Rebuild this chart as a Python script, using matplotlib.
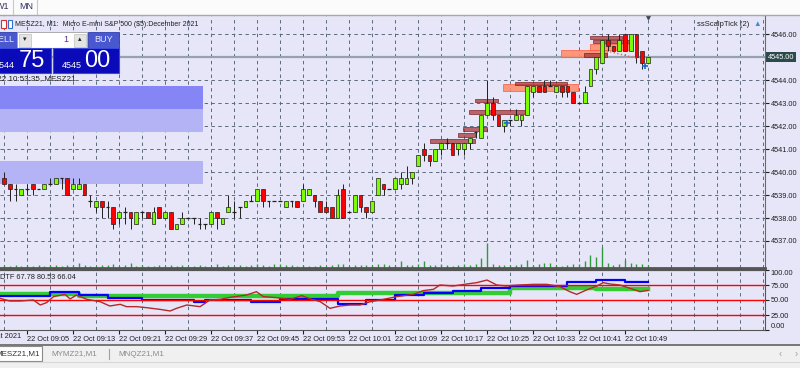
import matplotlib
matplotlib.use('Agg')
import matplotlib.pyplot as plt
from matplotlib.patches import Rectangle

plt.rcParams['font.family'] = ['Liberation Sans', 'DejaVu Sans']

W, H = 800, 368
BG = '#e6e6f8'
GRID = '#5a6a7c'
DASH = (0, (3.5, 3.5))

# M1 bars of MESZ21, minutes after 09:00 on 22 Oct 2021
bar_minutes = list(range(1, 114))
opens = [4539.75, 4539.5, 4539.25, 4539.0, 4539.25, 4539.5, 4539.25, 4539.25, 4539.5, 4539.5,
         4539.75, 4539.75, 4539.25, 4539.25, 4539.5, 4538.75, 4538.5, 4538.75, 4538.5, 4538.5,
         4538.0, 4538.25, 4538.25, 4537.75, 4538.25, 4538.25, 4537.75, 4538.5, 4538.0, 4538.25,
         4537.5, 4537.75, 4538.0, 4538.0, 4537.75, 4537.75, 4537.75, 4538.25, 4537.75, 4538.25,
         4538.25, 4538.5, 4538.5, 4538.75, 4538.75, 4539.25, 4538.75, 4538.75, 4538.75, 4538.5,
         4538.75, 4538.75, 4538.75, 4539.0, 4539.0, 4538.75, 4538.5, 4538.5, 4538.0, 4539.25,
         4538.25, 4538.25, 4539.0, 4538.5, 4538.25, 4539.0, 4539.5, 4539.25, 4539.25, 4539.5,
         4539.5, 4539.75, 4540.25, 4541.0, 4540.75, 4540.5, 4541.0, 4541.25, 4541.25, 4541.0,
         4541.0, 4541.25, 4541.75, 4541.5, 4542.5, 4543.0, 4542.5, 4542.0, 4542.25, 4542.25,
         4542.25, 4542.5, 4543.5, 4543.75, 4543.75, 4543.75, 4543.5, 4543.75, 4543.75, 4543.5,
         4543.0, 4543.0, 4543.75, 4544.5, 4544.75, 4545.75, 4545.5, 4545.25, 4546.0, 4545.25,
         4546.0, 4545.25, 4544.75]
highs = [4540.0, 4539.5, 4539.5, 4539.25, 4539.5, 4539.5, 4539.25, 4539.5, 4539.75, 4539.75,
         4539.75, 4539.75, 4539.75, 4539.75, 4539.5, 4539.0, 4538.75, 4538.75, 4538.75, 4538.5,
         4538.25, 4538.5, 4538.25, 4538.25, 4538.25, 4538.25, 4538.5, 4538.5, 4538.25, 4538.25,
         4537.75, 4538.25, 4538.0, 4538.0, 4538.0, 4537.75, 4538.25, 4538.25, 4538.0, 4539.0,
         4538.75, 4538.5, 4538.75, 4539.0, 4539.25, 4539.25, 4538.75, 4538.75, 4538.75, 4538.75,
         4538.75, 4538.75, 4539.5, 4539.25, 4539.0, 4538.75, 4538.75, 4538.5, 4539.25, 4539.5,
         4538.25, 4539.0, 4539.0, 4538.5, 4538.75, 4539.75, 4539.5, 4539.25, 4539.75, 4540.0,
         4540.25, 4540.0, 4540.75, 4541.25, 4540.75, 4541.0, 4541.25, 4541.5, 4541.25, 4541.25,
         4541.25, 4541.5, 4541.75, 4542.5, 4544.0, 4543.25, 4542.5, 4542.25, 4542.25, 4542.75,
         4542.5, 4543.75, 4543.75, 4543.75, 4544.0, 4544.0, 4543.75, 4543.75, 4543.75, 4543.5,
         4543.0, 4543.75, 4544.5, 4545.0, 4545.75, 4546.0, 4545.5, 4546.0, 4546.0, 4546.0,
         4546.0, 4545.25, 4545.0]
lows = [4539.5, 4538.75, 4538.75, 4539.0, 4539.0, 4539.0, 4539.25, 4539.25, 4539.5, 4539.5,
        4539.25, 4539.0, 4539.25, 4539.25, 4539.0, 4538.5, 4538.25, 4538.0, 4538.0, 4537.5,
        4537.75, 4537.75, 4537.5, 4537.75, 4538.0, 4538.0, 4537.75, 4538.0, 4538.0, 4537.5,
        4537.5, 4537.75, 4538.0, 4537.75, 4537.5, 4537.5, 4537.75, 4537.5, 4537.75, 4538.25,
        4538.0, 4538.0, 4538.5, 4538.75, 4538.75, 4538.5, 4538.5, 4538.75, 4538.75, 4538.5,
        4538.5, 4538.5, 4538.75, 4539.0, 4538.5, 4538.25, 4538.25, 4538.0, 4538.0, 4538.0,
        4538.25, 4538.25, 4538.25, 4538.0, 4538.25, 4539.0, 4539.0, 4539.25, 4539.25, 4539.25,
        4539.5, 4539.5, 4540.25, 4540.5, 4540.25, 4540.5, 4540.75, 4541.0, 4540.75, 4540.75,
        4540.75, 4541.0, 4541.5, 4541.5, 4542.5, 4542.25, 4542.0, 4541.75, 4542.0, 4542.25,
        4542.0, 4542.5, 4543.25, 4543.5, 4543.5, 4543.75, 4543.5, 4543.25, 4543.25, 4543.0,
        4543.0, 4543.0, 4543.75, 4544.25, 4544.75, 4545.25, 4545.25, 4545.25, 4545.25, 4545.25,
        4544.75, 4544.5, 4544.75]
closes = [4539.5, 4539.25, 4539.25, 4539.25, 4539.25, 4539.25, 4539.25, 4539.5, 4539.5, 4539.75,
          4539.75, 4539.0, 4539.5, 4539.5, 4539.0, 4538.75, 4538.75, 4538.5, 4538.5, 4537.75,
          4538.25, 4538.25, 4538.0, 4538.25, 4538.25, 4538.0, 4538.25, 4538.0, 4538.25, 4537.5,
          4537.75, 4538.0, 4538.0, 4538.0, 4537.75, 4537.75, 4538.25, 4538.0, 4538.0, 4538.5,
          4538.25, 4538.5, 4538.75, 4538.75, 4539.25, 4538.75, 4538.75, 4538.75, 4538.75, 4538.75,
          4538.75, 4538.5, 4539.25, 4539.25, 4538.75, 4538.25, 4538.25, 4538.0, 4539.0, 4538.0,
          4538.25, 4539.0, 4538.5, 4538.25, 4538.75, 4539.75, 4539.25, 4539.25, 4539.75, 4539.75,
          4539.75, 4540.0, 4540.75, 4540.75, 4540.5, 4541.0, 4541.25, 4541.25, 4540.75, 4541.25,
          4541.25, 4541.5, 4541.75, 4542.5, 4543.0, 4542.5, 4542.0, 4542.25, 4542.25, 4542.5,
          4542.5, 4543.75, 4543.75, 4543.5, 4543.5, 4543.75, 4543.75, 4543.5, 4543.5, 4543.0,
          4543.0, 4543.5, 4544.5, 4545.0, 4545.75, 4545.5, 4545.25, 4545.75, 4545.25, 4546.0,
          4545.0, 4544.75, 4545.0]
volumes = [3, 2, 3, 2, 3, 2, 3, 2, 3, 3, 2, 3, 3, 5, 3, 2, 2, 3, 3, 4,
           2, 3, 5, 2, 3, 2, 2, 3, 2, 3, 2, 3, 2, 2, 3, 2, 2, 4, 2, 3,
           2, 3, 2, 3, 4, 3, 2, 4, 4, 3, 3, 2, 3, 2, 2, 3, 2, 3, 4, 4,
           2, 3, 3, 3, 3, 4, 4, 3, 3, 7, 3, 3, 4, 7, 3, 3, 4, 3, 2, 3,
           4, 3, 4, 10, 25, 4, 3, 3, 3, 3, 4, 8, 3, 4, 5, 5, 3, 2, 3, 4,
           4, 7, 13, 11, 21, 5, 3, 4, 8, 5, 4, 4, 3]
last_price = 4545.00

# support/resistance zones on the left
zone_end = 35.6
zone_lows = [4542.75, 4541.75, 4539.5]
zone_highs = [4543.75, 4542.75, 4540.5]
zone_colors = ['#8585f6', '#b3b3f6', '#b3b3f6']

# scalper order blocks
box_starts = [75.0, 79.9, 80.9, 81.9, 82.9, 87.8, 89.9, 102.9, 103.5, 102.9, 97.9, 101.8]
box_ends = [82.9, 82.9, 85.0, 91.6, 86.9, 100.9, 98.9, 108.4, 110.4, 110.4, 105.8, 105.8]
box_lows = [4541.27, 4541.54, 4541.78, 4542.52, 4543.03, 4543.52, 4543.78, 4545.78, 4545.59,
            4545.30, 4545.00, 4545.00]
box_highs = [4541.43, 4541.71, 4541.94, 4542.70, 4543.17, 4543.81, 4543.93, 4545.91, 4545.74,
             4545.57, 4545.30, 4545.19]
box_kinds = ['d', 'd', 'd', 'd', 'd', 'l', 'd', 'd', 'd', 'l', 'l', 'd']

# DTF indicator
blue_minutes = [0, 9, 14, 19, 25, 34, 36, 44, 49, 59, 64, 69, 74, 79, 84, 89, 99, 104, 109, 113]
blue_values = [56, 64, 58, 54, 50, 46, 50, 46, 51, 43, 50, 58, 61, 65, 69.5, 74, 80.5, 83, 80.5, 80.5]
green_minutes = [0, 14, 59, 89, 104, 113]
green_values = [60, 57, 61, 70, 67.8, 67.8]
red_minutes = [0.3, 2.0, 3.8, 6.1, 7.3, 8.4, 9.6, 11.6, 12.5, 13.6, 15.4, 17.7, 19.4, 21.2, 22.3,
               24.1, 25.8, 28.1, 29.9, 31.0, 32.8, 35.1, 36.8, 38.6, 40.3, 43.2, 44.9, 46.1, 48.4,
               50.7, 52.8, 54.5, 56.0, 57.7, 59.4, 61.2, 62.9, 64.7, 67.0, 69.3, 72.2, 73.9, 75.7,
               76.8, 79.1, 81.5, 83.2, 85.0, 86.7, 88.4, 90.7, 93.1, 95.4, 97.7, 99.4, 100.6, 102.3,
               104.1, 105.2, 106.4, 108.1, 109.9, 111.6, 113.0]
red_values = [52.8, 48.3, 48.3, 50.0, 41.7, 45.6, 55.6, 59.4, 51.7, 58.3, 51.1, 47.2, 40.0, 42.8, 38.9,
              38.9, 37.2, 34.4, 31.7, 36.1, 41.7, 38.9, 50.0, 51.1, 54.4, 58.3, 63.9, 55.6, 53.9,
              51.1, 57.2, 51.1, 47.2, 36.1, 40.0, 41.7, 41.7, 47.2, 51.1, 55.6, 59.4, 65.6, 67.8,
              75.0, 73.3, 76.7, 78.9, 83.3, 75.0, 73.3, 75.0, 76.1, 76.1, 72.2, 63.9, 59.4, 66.7,
              73.3, 78.9, 76.7, 75.0, 69.4, 63.9, 66.0]
dtf_levels = [25, 50, 75]

price_ticks = [4537, 4538, 4539, 4540, 4541, 4542, 4543, 4544, 4545, 4546]
grid_minutes = list(range(1, 134, 4))
label_minutes = [5, 13, 21, 29, 37, 45, 53, 61, 69, 77, 85, 93, 101, 109]
time_labels = ['22 Oct 09:05', '22 Oct 09:13', '22 Oct 09:21', '22 Oct 09:29', '22 Oct 09:37',
               '22 Oct 09:45', '22 Oct 09:53', '22 Oct 10:01', '22 Oct 10:09', '22 Oct 10:17',
               '22 Oct 10:25', '22 Oct 10:33', '22 Oct 10:41', '22 Oct 10:49']

X_MIN, X_MAX = 0.30, 133.35


def px_rect(x0, y0, x1, y1):
    return [x0 / W, 1 - y1 / H, (x1 - x0) / W, (y1 - y0) / H]


fig = plt.figure(figsize=(W / 100, H / 100), dpi=100)
fig.patch.set_facecolor(BG)

# ---------- main price chart ----------
ax = fig.add_axes(px_rect(0, 16, 765, 268))
ax.set_facecolor(BG)
ax.set_xlim(X_MIN, X_MAX)
ax.set_ylim(4535.826, 4546.783)

for lo, hi, col in zip(zone_lows, zone_highs, zone_colors):
    ax.add_patch(Rectangle((X_MIN - 1, lo), zone_end - X_MIN + 1, hi - lo,
                           facecolor=col, edgecolor='none', zorder=1))

ax.axhline(last_price, color='#98a2ae', lw=1.6, zorder=1.5)

for s, e, lo, hi, k in zip(box_starts, box_ends, box_lows, box_highs, box_kinds):
    if k == 'd':
        fc, ec, a = '#a83a3a', '#7a1414', 0.75
    else:
        fc, ec, a = '#ff8a66', '#ff5a3a', 0.85
    ax.add_patch(Rectangle((s, lo), e - s, hi - lo, facecolor=fc, edgecolor=ec,
                           lw=0.6, alpha=a, zorder=2.5))

# volumes, one unit = one pixel above the bottom edge
vol_tr = ax.get_xaxis_transform()
ax.vlines(bar_minutes, 0, [v / 252 for v in volumes], transform=vol_tr,
          color='#2f9a3a', lw=1.0, zorder=2)

for m, o, hh, ll, c in zip(bar_minutes, opens, highs, lows, closes):
    ax.vlines(m, ll, hh, color='#202020', lw=0.7, zorder=3)
    if c == o:
        ax.hlines(o, m - 0.32, m + 0.32, color='#202020', lw=0.9, zorder=4)
    else:
        col = '#7cfc00' if c > o else '#ff0000'
        ax.add_patch(Rectangle((m - 0.31, min(o, c)), 0.62, abs(c - o),
                               facecolor=col, edgecolor='#202020', lw=0.5, zorder=4))

ax.plot([106.4, 111.1], [4545.23, 4544.94], ls=':', color='#e06a50', lw=1, zorder=5)
ax.plot([88.5, 112.5], [4542.12, 4544.62], ls='none', marker='+', ms=4, mew=1.2,
        color='#1a6ad0', zorder=6)

ax.yaxis.tick_right()
ax.set_yticks(price_ticks)
# the last price sits in its own boxed label
ax.set_yticklabels(['' if p == last_price else f'{p:.2f}' for p in price_ticks])
ax.tick_params(axis='y', direction='out', length=3, width=0.8, pad=1,
               labelsize=5.3, colors='#202020')
ax.set_xticks(grid_minutes)
ax.tick_params(axis='x', length=0, labelbottom=False)
ax.grid(True, color=GRID, ls=DASH, lw=0.7, zorder=0)
ax.set_axisbelow(True)
for side in ['left', 'top']:
    ax.spines[side].set_visible(False)
ax.spines['right'].set_color('#6a6a6a')
ax.spines['bottom'].set_color('#555555')
ax.spines['bottom'].set_linewidth(2)

ax.text(1.004, last_price, f'{last_price:.2f}', transform=ax.get_yaxis_transform(),
        va='center', ha='left', fontsize=5.3, color='white', zorder=10,
        bbox=dict(boxstyle='square,pad=0.25', fc='#2c4a4c', ec='none'))
ax.plot([bar_minutes[-1]], [1.0], marker='v', ms=4.5, color='#3c4650',
        transform=ax.get_xaxis_transform(), clip_on=False, zorder=10)

# ---------- DTF indicator ----------
ax2 = fig.add_axes(px_rect(0, 270, 765, 330))
ax2.set_facecolor(BG)
ax2.set_xlim(X_MIN, X_MAX)
ax2.set_ylim(0, 100)
ax2.plot(green_minutes, green_values, drawstyle='steps-post', color='#33cc33', lw=3.2, zorder=3)
ax2.plot(blue_minutes, blue_values, drawstyle='steps-post', color='#0000ff', lw=1.6, zorder=4)
for lv in dtf_levels:
    ax2.axhline(lv, color='#ff0000', lw=1.0, zorder=5)
ax2.plot(red_minutes, red_values, color='#b82828', lw=1.0, zorder=6)

ax2.set_xticks(grid_minutes, minor=True)
ax2.set_xticks(label_minutes)
ax2.set_xticklabels(time_labels, ha='left')
ax2.tick_params(axis='x', which='major', length=3, width=0.8, pad=1.5, labelsize=5.3,
                colors='#202020')
ax2.tick_params(axis='x', which='minor', length=0)
ax2.grid(True, which='minor', axis='x', color=GRID, ls=DASH, lw=0.7)
ax2.set_axisbelow(True)
ax2.yaxis.tick_right()
ax2.set_yticks([0, 25, 50, 75, 100])
ax2.set_yticklabels(['0.00', '25.00', '50.00', '75.00', '100.00'])
ax2.tick_params(axis='y', direction='out', length=3, width=0.8, pad=1, labelsize=5.3,
                colors='#202020')
ylabs = ax2.get_yticklabels()
ylabs[0].set_va('bottom')
ylabs[-1].set_va('top')
ax2.spines['left'].set_visible(False)
ax2.spines['top'].set_color('#555555')
ax2.spines['top'].set_linewidth(1.6)
for side in ['right', 'bottom']:
    ax2.spines[side].set_color('#555555')

# ---------- terminal decorations (pixel coordinates) ----------
ui = fig.add_axes([0, 0, 1, 1], zorder=20)
ui.set_xlim(0, W)
ui.set_ylim(H, 0)
ui.axis('off')

ui.add_patch(Rectangle((0, 0), W, 15, fc='#fbfbfb', ec='none'))
ui.plot([0, W], [15, 15], color='#a8a8a8', lw=1)
ui.plot([12.5, 12.5], [0, 14], color='#c8c8c8', lw=0.8)
ui.plot([36.5, 36.5], [0, 14], color='#c8c8c8', lw=0.8)
ui.text(-4, 6.5, 'W1', fontsize=6.5, color='#333366', va='center')
ui.text(19, 6.5, 'MN', fontsize=6.5, color='#333366', va='center')

ui.add_patch(Rectangle((0, 345), W, 23, fc='#f0f0f0', ec='none'))
ui.plot([0, W], [345, 345], color='#777777', lw=1.4)
ui.plot([0, W], [361.5, 361.5], color='#d8d8d8', lw=0.8)
ui.add_patch(Rectangle((-2, 346), 44, 15, fc='white', ec='#8a8a8a', lw=0.8))
ui.text(40, 354, 'MESZ21,M1', ha='right', va='center', fontsize=5.8, color='#333333')
ui.text(51, 354, 'MYMZ21,M1', ha='left', va='center', fontsize=5.8, color='#8a8a8a')
ui.plot([109, 109], [349, 359], color='#a0a0a0', lw=0.8)
ui.text(118, 354, 'MNQZ21,M1', ha='left', va='center', fontsize=5.8, color='#8a8a8a')
ui.text(780, 354, '\u2039', ha='center', va='center', fontsize=7, color='#a0a0a0')
ui.text(796, 354, '\u203a', ha='center', va='center', fontsize=7, color='#a0a0a0')

ui.text(-19, 336.5, '22 Oct 2021', ha='left', va='center', fontsize=5.3, color='#202020')

# chart header
ui.add_patch(Rectangle((1, 19.5), 5, 8, fc='white', ec='#d03030', lw=0.8))
ui.add_patch(Rectangle((7.5, 19.5), 4, 8, fc='white', ec='#3070d0', lw=0.8))
ui.text(15, 24, 'MESZ21, M1:  Micro E-mini S&P 500 ($5):December 2021', ha='left',
        va='center', fontsize=5.0, color='#202020')
ui.text(749, 24.5, 'ssScalpTick (2)', ha='right', va='center', fontsize=5.5, color='#202020')
ui.text(757, 24.5, '\u25b2', ha='center', va='center', fontsize=5.5, color='#3a8ad6')

# one click trading panel
ui.add_patch(Rectangle((-1, 32), 18, 16, fc='#4a58d0', ec='#3040b0', lw=0.6))
ui.text(15, 40, 'SELL', ha='right', va='center', fontsize=6.5, color='#e8e8ff')
ui.add_patch(Rectangle((17, 32), 70, 16, fc='white', ec='#a0a0a0', lw=0.6))
ui.add_patch(Rectangle((18.5, 33.5), 12, 13, fc='#e4e4e4', ec='#c0c0c0', lw=0.5))
ui.add_patch(Rectangle((73.5, 33.5), 12, 13, fc='#e4e4e4', ec='#c0c0c0', lw=0.5))
ui.text(24.5, 40, '\u25be', ha='center', va='center', fontsize=5, color='#202020')
ui.text(79.5, 40, '\u25b4', ha='center', va='center', fontsize=5, color='#202020')
ui.text(68, 40, '1', ha='right', va='center', fontsize=6.5, color='#602888')
ui.add_patch(Rectangle((88, 32), 31, 16, fc='#4a58d0', ec='#3040b0', lw=0.6))
ui.text(103.5, 40, 'BUY', ha='center', va='center', fontsize=6.5, color='#e8e8ff')
ui.add_patch(Rectangle((-1, 48), 52, 25, fc='#0a0ab8', ec='#3848e0', lw=0.8))
ui.add_patch(Rectangle((53, 48), 66, 25, fc='#0a0ab8', ec='#3848e0', lw=0.8))
ui.text(15, 66, '4544', ha='right', va='center', fontsize=6.5, color='white')
ui.text(18.5, 61, '75', ha='left', va='center', fontsize=17, color='white')
ui.text(82, 66, '4545', ha='right', va='center', fontsize=6.5, color='white')
ui.text(84.5, 61, '00', ha='left', va='center', fontsize=17, color='white')
ui.text(75, 79, '2021.10.22 10:53:35, MESZ21', ha='right', va='center', fontsize=5.8,
        color='#202020')

ui.text(0, 277.5, 'DTF 67.78 80.53 66.04', ha='left', va='center', fontsize=5.3, color='#202020')

fig.savefig('out.png', dpi=100, facecolor=fig.get_facecolor())
